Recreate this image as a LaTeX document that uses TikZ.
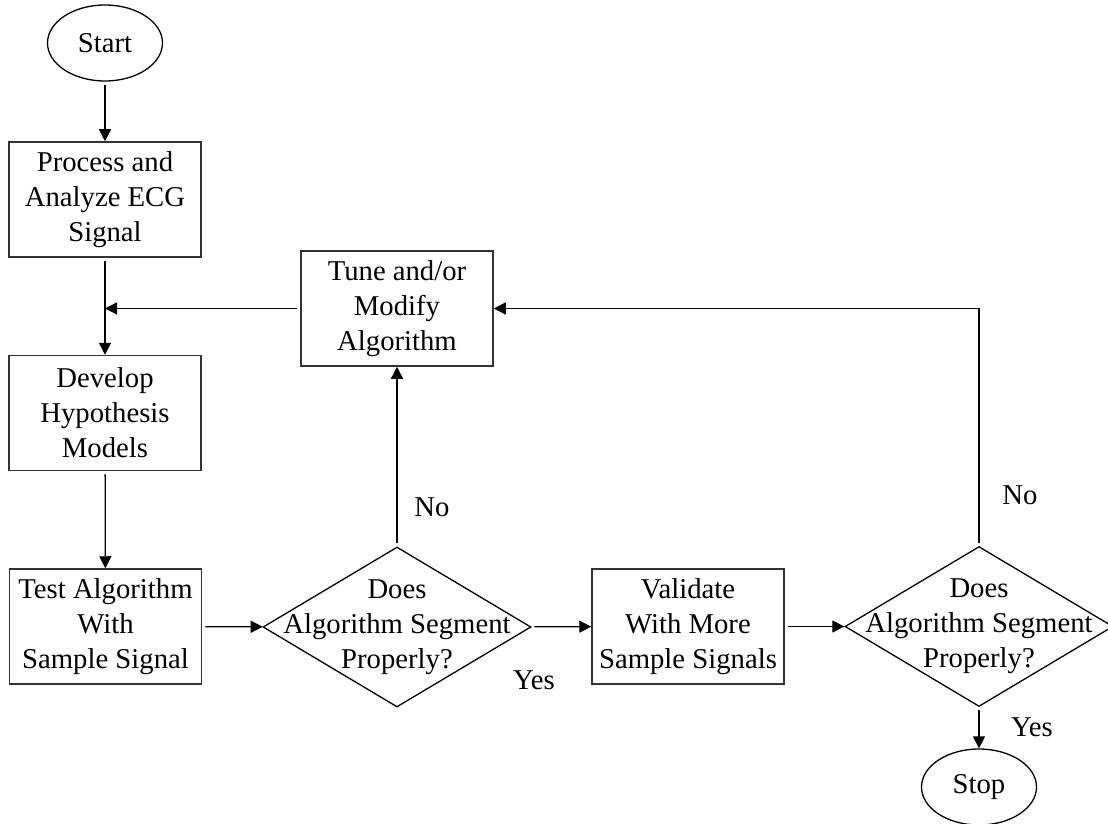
\documentclass[tikz,border=0pt]{standalone}
\usepackage{fontspec}
\setmainfont{Liberation Serif}
\usetikzlibrary{arrows.meta, shapes.geometric, positioning}

\tikzstyle{stepbox} = [draw=black!80, rectangle, line width=0.75pt,
    minimum width=96pt, minimum height=57.5pt, inner sep=0pt, align=center]
\tikzstyle{decision} = [draw, diamond, line width=0.65pt,
    minimum width=134pt, minimum height=80pt, inner sep=0pt]
\tikzstyle{terminal} = [draw, ellipse, line width=0.65pt,
    minimum width=57.5pt, minimum height=38pt, inner sep=0pt]
\tikzstyle{flow} = [-{Triangle[length=6pt,width=6pt]}, line width=0.65pt,
    shorten <=1.5pt]
\tikzstyle{answer} = [inner sep=0pt]

\begin{document}
\begin{tikzpicture}[x=0.5pt, y=-0.5pt, font=\fontsize{14.35pt}{17.5pt}\selectfont]
    \useasboundingbox (0,0) rectangle (1108,824);
    \node [terminal] (start) at (105,43) {Start};
    \node [stepbox] (process) at (105,199.5) {Process and\\Analyze ECG\\Signal};
    \node [stepbox] (develop) at (105,413) {Develop\\Hypothesis\\Models};
    \node [stepbox] (test) at (105.5,626.5) {Test Algorithm\\With\\Sample Signal};
    \node [decision, label={[align=center]center:Does\\Algorithm Segment\\Properly?}]
        (decide1) at (397,627) {};
    \node [stepbox] (tune) at (397,308.5) {Tune and/or\\Modify\\Algorithm};
    \node [stepbox] (validate) at (688,626.5) {Validate\\With More\\Sample Signals};
    \node [decision, label={[align=center]center:Does\\Algorithm Segment\\Properly?}]
        (decide2) at (979,626.5) {};
    \node [terminal] (stop) at (979,787) {Stop};

    % answers on the branches
    \node [answer] (no1) at (432,507) {No};
    \node [answer] (yes1) at (534,680) {Yes};
    \node [answer] (no2) at (1020,495) {No};
    \node [answer] (yes2) at (1032,727) {Yes};

    \draw [flow] (start) -- (process);
    \draw [flow] (process) -- (develop);
    \draw [flow] (tune.west) -- (tune.west -| process.south);
    \draw [flow] (develop) -- (test);
    \draw [flow] (test) -- (decide1);
    \draw [flow] (decide1) -- (tune);
    \draw [flow] (decide1) -- (validate);
    \draw [flow] (validate) -- (decide2);
    \draw [flow] (decide2.north) |- (tune.east);
    \draw [flow] (decide2) -- (stop);
\end{tikzpicture}
\end{document}
